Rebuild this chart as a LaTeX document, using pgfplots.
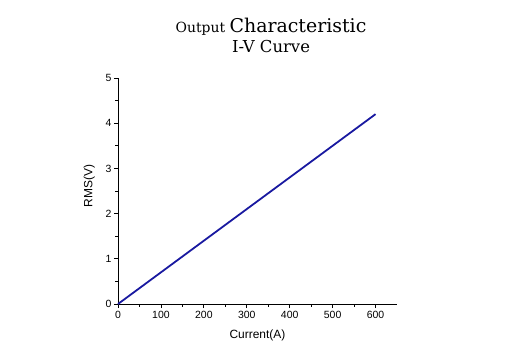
\documentclass[border=0pt]{standalone}
\usepackage{pgfplots}
\pgfplotsset{compat=1.18}
\usepackage{fontspec}
\setmainfont{DejaVu Serif}
\setsansfont{Liberation Sans}
\definecolor{linecol}{RGB}{25,25,160}
\begin{document}
\begin{tikzpicture}
\begin{axis}[
  name=ax,
  scale only axis,
  width=279bp, height=226bp,
  xmin=0, xmax=650, ymin=0, ymax=5,
  axis lines*=left,
  axis line style={black, line width=0.9pt},
  tick align=outside,
  xtick={0,100,...,600},
  ytick={0,1,...,5},
  minor tick num=1,
  major tick length=4bp,
  minor tick length=2.5bp,
  tick style={black, line width=0.8pt},
  /pgf/number format/assume math mode=true,
  ticklabel style={font=\sffamily\fontsize{10.5}{11}\selectfont},
  yticklabel style={xshift=1bp},
  label style={font=\sffamily\fontsize{12}{13}\selectfont},
  xlabel={Current(A)},
  ylabel={RMS(V)},
  xlabel style={yshift=-4bp},
  ylabel style={at={(ticklabel cs:0.522,4bp)}},
  clip=false,
]
\addplot[color=linecol, line width=1.8pt] coordinates {(0,0) (600,4.2)};
\end{axis}
\node[font=\fontsize{14}{15}\selectfont, anchor=base] at (153bp,271bp) {Output {\fontsize{19}{20}\selectfont Characteristic}};
\node[font=\fontsize{16.5}{17}\selectfont, anchor=base] at (153bp,251bp) {I-V Curve};
\pgfresetboundingbox
\path[use as bounding box] (-118bp,-49bp) rectangle (393bp,304bp);
\end{tikzpicture}
\end{document}
